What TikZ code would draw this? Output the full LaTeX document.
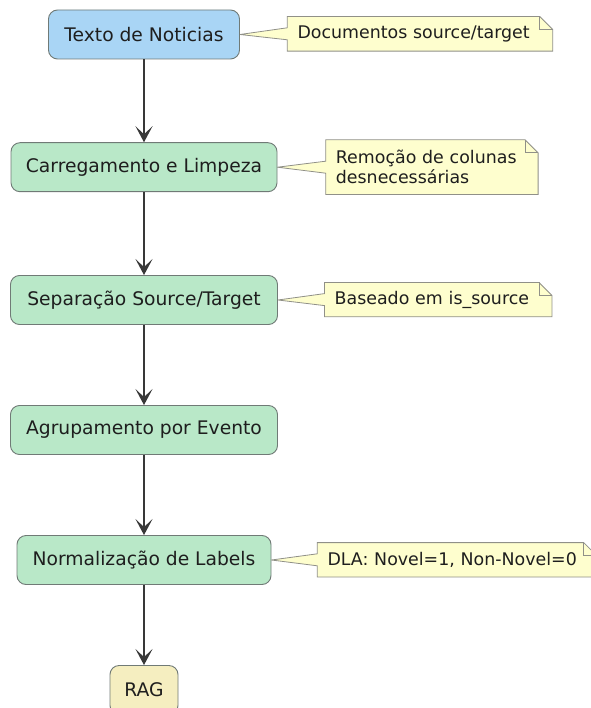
\documentclass[tikz,border=0pt]{standalone}
\usepackage{fontspec}
\setmainfont{DejaVu Sans}
\usetikzlibrary{arrows.meta,backgrounds}
\definecolor{bluefill}{HTML}{A9D5F5}
\definecolor{greenfill}{HTML}{B9E8C8}
\definecolor{ragfill}{HTML}{F5EEC0}
\definecolor{notefill}{HTML}{FEFECE}
\definecolor{noteline}{HTML}{909088}
\definecolor{boxline}{HTML}{707A76}
\definecolor{arrowcol}{HTML}{383838}
\definecolor{txt}{HTML}{1E1E1E}
\tikzset{
  stepbox/.style={draw=boxline, line width=0.9pt, rounded corners=9pt, inner sep=0pt,
    font=\fontsize{18.7}{22}\selectfont, text=txt, minimum height=49pt},
  notebox/.style={inner xsep=10pt, inner ysep=0pt, anchor=west, align=left,
    font=\fontsize{17.4}{20}\selectfont, text=txt},
  noteshape/.style={draw=noteline, fill=notefill, line width=0.8pt, line join=miter},
  arr/.style={draw=arrowcol, line width=1.5pt, -{Stealth[length=16pt,width=17pt,inset=8pt]}}
}
\newcommand{\drawnote}[2]{%
  \draw[noteshape] (#1.north west) -- ([xshift=-13pt]#1.north east) -- ([yshift=-13pt]#1.north east)
    -- (#1.south east) -- (#1.south west) -- ([yshift=-6pt]#1.west) -- (#2.east)
    -- ([yshift=6pt]#1.west) -- cycle;
  \draw[noteshape, fill=none] ([xshift=-13pt]#1.north east) |- ([yshift=-13pt]#1.north east);
}
\begin{document}
\begin{tikzpicture}[x=1pt,y=-1pt]
\useasboundingbox (0,0) rectangle (590,708);
\clip (0,0) rectangle (590,708);
\node[stepbox, fill=bluefill, minimum width=191pt] (n1) at (144,34.5) {Texto de Noticias};
\node[stepbox, fill=greenfill, minimum width=266pt] (n2) at (144,167.2) {Carregamento e Limpeza};
\node[stepbox, fill=greenfill, minimum width=267pt] (n3) at (144,300) {Separação Source/Target};
\node[stepbox, fill=greenfill, minimum width=267pt] (n4) at (144,430) {Agrupamento por Evento};
\node[stepbox, fill=greenfill, minimum width=254pt] (n5) at (144,560) {Normalização de Labels};
\node[stepbox, fill=ragfill, minimum width=68pt] (n6) at (144,690) {RAG};

\node[notebox, text width=245pt, minimum height=34.3pt] (c1) at (287.3,33.8) {Documentos source/target};
\node[notebox, text width=192pt, minimum height=54.3pt] (c2) at (325.7,167.2) {Remoção de colunas\\desnecessárias};
\node[notebox, text width=207pt, minimum height=34pt] (c3) at (324.5,299.6) {Baseado em is\_source};
\node[notebox, text width=259pt, minimum height=34pt] (c5) at (317.3,559.8) {DLA: Novel=1, Non-Novel=0};

\begin{scope}[on background layer]
\drawnote{c1}{n1}
\drawnote{c2}{n2}
\drawnote{c3}{n3}
\drawnote{c5}{n5}
\end{scope}

\draw[arr] (n1.south) -- (n2.north);
\draw[arr] (n2.south) -- (n3.north);
\draw[arr] (n3.south) -- (n4.north);
\draw[arr] (n4.south) -- (n5.north);
\draw[arr] (n5.south) -- (n6.north);
\end{tikzpicture}
\end{document}
